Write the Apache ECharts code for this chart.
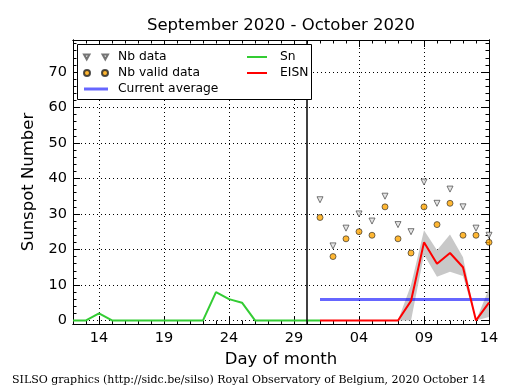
<!DOCTYPE html>
<html><head><meta charset="utf-8">
<script src="https://cdn.jsdelivr.net/npm/echarts@6/dist/echarts.min.js"></script>
<style>html,body{margin:0;padding:0;background:#fff}#c{width:515px;height:390px}</style>
</head><body><div id="c"></div>
<script>
// ---- data ----
const days = ['09-12','09-13','09-14','09-15','09-16','09-17','09-18','09-19','09-20','09-21',
  '09-22','09-23','09-24','09-25','09-26','09-27','09-28','09-29','09-30',
  '10-01','10-02','10-03','10-04','10-05','10-06','10-07','10-08','10-09','10-10',
  '10-11','10-12','10-13','10-14'];
const xTickLabels = ['14','19','24','29','04','09','14'];
const yTickValues = [0,10,20,30,40,50,60,70];
const snDays = ['09-12','09-13','09-14','09-15','09-16','09-17','09-18','09-19','09-20','09-21',
  '09-22','09-23','09-24','09-25','09-26','09-27','09-28','09-29','09-30','10-01'];
const sn = [0,0,2,0,0,0,0,0,0,0,0,8,6,5,0,0,0,0,0,0];
const octDays = ['10-01','10-02','10-03','10-04','10-05','10-06','10-07','10-08','10-09','10-10',
  '10-11','10-12','10-13','10-14'];
const eisn     = [0,0,0,0,0,0,0,5.5,22,16,19,15,0,5];
const eisnLow  = [0,0,0,0,0,0,0,0,18.5,12.3,13.7,12.5,0,1];
const eisnHigh = [0,0,0,0,0,0,0,10,25.4,19.8,24.2,17.8,0,9];
const nbData   = [34,21,26,30,28,35,27,25,39,33,37,32,26,24];
const nbValid  = [29,18,23,25,24,32,23,19,32,27,33,24,24,22];
const currentAverage = 5.9;
const monthBoundary = '09-30';

// ---- chart ----
const F = 'DejaVu Sans';
const pairs = (xs, ys) => xs.map((x, i) => [x, ys[i]]);
const isMajor = (i) => (i - 2) % 5 === 0 && i >= 2;
const yMinor = [];
for (let v = 0; v <= 78; v += 2) yMinor.push(v);

function xAx(pos, major) {
  return {
    type: 'category', data: days, boundaryGap: false, position: pos,
    axisLine: { onZero: false, lineStyle: { color: '#000', width: 1 } },
    axisTick: { inside: true, length: major ? 7 : 3.5, interval: major ? (i) => isMajor(i) : 0,
      lineStyle: { color: '#000', width: 1 } },
    axisLabel: { show: false },
    splitLine: { show: false }
  };
}
function yAx(pos, major) {
  return {
    type: 'value', min: -1, max: 79, position: pos,
    axisLine: { show: true, onZero: false, lineStyle: { color: '#000', width: 1 } },
    axisTick: { show: true, inside: true, length: major ? 7 : 3.5, customValues: major ? yTickValues : yMinor,
      lineStyle: { color: '#000', width: 1 } },
    axisLabel: { show: false },
    splitLine: { show: false }
  };
}
const x0 = xAx('bottom', true);
x0.axisLabel = { show: true, interval: (i) => isMajor(i), color: '#000', fontFamily: F, fontSize: 14.5, margin: 7,
  formatter: (v, i) => xTickLabels[(days.indexOf(v) - 2) / 5] };
x0.splitLine = { show: true, interval: (i) => isMajor(i), lineStyle: { color: '#000', width: 1, type: [1, 3] } };
x0.name = 'Day of month'; x0.nameLocation = 'middle'; x0.nameGap = 25;
x0.nameTextStyle = { fontFamily: F, fontSize: 16.5, color: '#000' };

const y0 = yAx('left', true);
y0.axisLabel = { show: true, customValues: yTickValues, color: '#000', fontFamily: F, fontSize: 14.5, margin: 6 };
y0.splitLine = { show: true, lineStyle: { color: '#000', width: 1, type: [1, 3] } };
y0.name = 'Sunspot Number'; y0.nameLocation = 'middle'; y0.nameGap = 33;
y0.nameTextStyle = { fontFamily: F, fontSize: 16.5, color: '#000' };

const triIcon = 'path://M0,0L5,0L2.5,4.5Z M17,0L22,0L19.5,4.5Z';
const circIcon = 'path://M0,3a3,3 0 1,0 6,0a3,3 0 1,0 -6,0Z M18,3a3,3 0 1,0 6,0a3,3 0 1,0 -6,0Z';
const thickLineIcon = 'path://M0,0L24,0L24,3L0,3Z';
const lineIcon = 'path://M0,0L20,0L20,2L0,2Z';

const option = {
  animation: false,
  backgroundColor: '#fff',
  grid: { left: 73, right: 26, top: 40, bottom: 66, show: false, outerBoundsMode: 'none' },
  xAxis: [x0, xAx('bottom', false), xAx('top', true), xAx('top', false)],
  yAxis: [y0, yAx('left', false), yAx('right', true), yAx('right', false)],
  legend: [
    { data: [{ name: 'Nb data', icon: triIcon }, { name: 'Nb valid data', icon: circIcon },
             { name: 'Current average', icon: thickLineIcon }],
      orient: 'vertical', left: 83, top: 51, itemWidth: 24, itemHeight: 7, itemGap: 4, padding: 0,
      selectedMode: false, z: 60,
      textStyle: { fontFamily: F, fontSize: 12.3, color: '#000', padding: [0, 0, 0, 5] } },
    { data: [{ name: 'Sn', icon: lineIcon }, { name: 'EISN', icon: lineIcon }],
      orient: 'vertical', left: 247, top: 51, itemWidth: 20, itemHeight: 7, itemGap: 4,
      padding: 0, selectedMode: false, z: 60,
      textStyle: { fontFamily: F, fontSize: 12.3, color: '#000', padding: [0, 0, 0, 8] } }
  ],
  graphic: [
    { type: 'rect', z: 50, shape: { x: 77.5, y: 44.5, width: 234, height: 55 },
      style: { fill: '#fff', stroke: '#000', lineWidth: 1 } },
    { type: 'text', z: 50, x: 281, y: 26,
      style: { text: 'September 2020 - October 2020', font: '16.5px "DejaVu Sans"', fill: '#000',
        textAlign: 'center', textVerticalAlign: 'middle' } },
    { type: 'text', z: 50, x: 12, y: 380,
      style: { text: 'SILSO graphics (http://sidc.be/silso) Royal Observatory of Belgium, 2020 October 14',
        font: '11px "DejaVu Serif"', fill: '#000', textAlign: 'left', textVerticalAlign: 'middle' } }
  ],
  series: [
    { name: 'Band low', type: 'line', stack: 'band', data: pairs(octDays, eisnLow), symbol: 'none',
      lineStyle: { opacity: 0 }, silent: true, z: 1 },
    { name: 'Band', type: 'line', stack: 'band', data: pairs(octDays, eisnHigh.map((h, i) => h - eisnLow[i])),
      symbol: 'none', lineStyle: { opacity: 0 }, areaStyle: { color: '#c8c8c8', opacity: 1 }, silent: true, z: 1 },
    { name: 'Sn', type: 'line', data: pairs(snDays, sn), symbol: 'none', color: '#33cc33',
      lineStyle: { color: '#33cc33', width: 2 }, z: 3,
      markLine: { symbol: 'none', silent: true, label: { show: false },
        lineStyle: { color: '#000', width: 1.5, type: 'solid' }, data: [{ xAxis: monthBoundary }] } },
    { name: 'Current average', type: 'line', data: octDays.map(d => [d, currentAverage]), symbol: 'none',
      color: 'rgba(0,0,255,0.6)', lineStyle: { color: 'rgba(0,0,255,0.6)', width: 3 }, z: 3 },
    { name: 'EISN', type: 'line', data: pairs(octDays, eisn), symbol: 'none', color: '#ff0000',
      lineStyle: { color: '#ff0000', width: 2 }, z: 4 },
    { name: 'Nb data', type: 'scatter', data: pairs(octDays, nbData), symbol: 'triangle', symbolRotate: 180,
      symbolSize: 6, itemStyle: { color: '#e0e0e0', borderColor: '#555', borderWidth: 1 }, z: 5 },
    { name: 'Nb valid data', type: 'scatter', data: pairs(octDays, nbValid), symbol: 'circle',
      symbolSize: 6, itemStyle: { color: '#ffa500', borderColor: '#222', borderWidth: 0.8 }, z: 5 }
  ]
};
const chart = echarts.init(document.getElementById('c'), null, { renderer: 'canvas' });
chart.setOption(option);
</script>
</body></html>
